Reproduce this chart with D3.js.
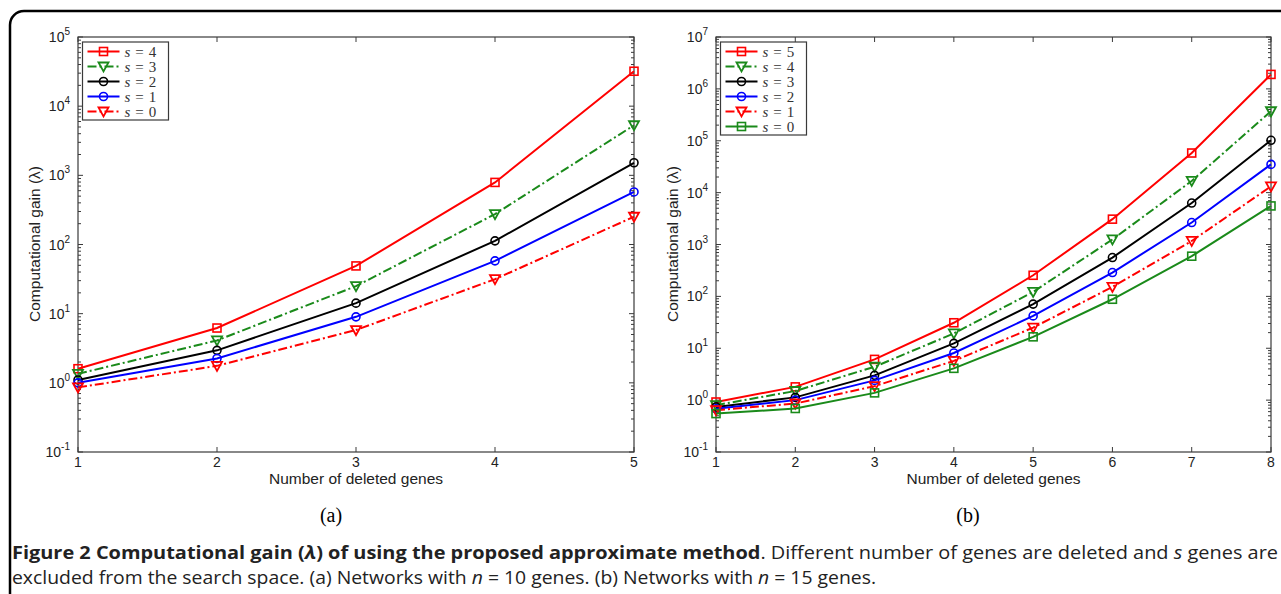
<!DOCTYPE html>
<html>
<head>
<meta charset="utf-8">
<script src="https://cdn.jsdelivr.net/npm/d3@7"></script>
<style>
  body { margin: 0; background: #fff; }
  svg { display: block; }
</style>
</head>
<body>
<div id="fig"></div>
<script>
// number of deleted genes
const genesA = [1, 2, 3, 4, 5];
const genesB = [1, 2, 3, 4, 5, 6, 7, 8];

// excluded genes (legend order)
const sA = [4, 3, 2, 1, 0];
const sB = [5, 4, 3, 2, 1, 0];

// computational gain, panel (a), n = 10
const gainA_s4 = [1.6, 6.2, 49, 790, 32000];
const gainA_s3 = [1.35, 4.1, 25, 275, 5300];
const gainA_s2 = [1.1, 2.95, 14.2, 113, 1520];
const gainA_s1 = [1.0, 2.25, 9.0, 58, 575];
const gainA_s0 = [0.86, 1.76, 5.8, 31.5, 252];

// computational gain, panel (b), n = 15
const gainB_s5 = [0.92, 1.8, 6.1, 31, 255, 3080, 58000, 1.9e6];
const gainB_s4 = [0.8, 1.5, 4.4, 19.3, 122, 1250, 16800, 370000];
const gainB_s3 = [0.74, 1.13, 3.0, 12.4, 71, 560, 6300, 102000];
const gainB_s2 = [0.68, 1.0, 2.4, 8.1, 42, 288, 2650, 35000];
const gainB_s1 = [0.64, 0.86, 1.86, 5.7, 25, 152, 1170, 13200];
const gainB_s0 = [0.55, 0.69, 1.38, 4.1, 16.6, 88, 595, 5540];

// y axis decades
const decadesA = [-1, 0, 1, 2, 3, 4, 5];
const decadesB = [-1, 0, 1, 2, 3, 4, 5, 6, 7];

const RED = "#ff0000", GREEN = "#1a8a1a", BLUE = "#0000ff", BLACK = "#000000";
const DASHDOT = "9,3,2,3";
const SANS = "Liberation Sans, Arial, sans-serif";
const SERIF = "Liberation Serif, Times New Roman, serif";

const W = 1281, H = 594;
const svg = d3.select("#fig").append("svg")
    .attr("width", W)
    .attr("height", H);

// outer rounded frame
svg.append("rect")
    .attr("x", 10).attr("y", 11)
    .attr("width", 1300).attr("height", 620)
    .attr("rx", 14)
    .attr("fill", "none")
    .attr("stroke", "#000")
    .attr("stroke-width", 2.5);

function drawPanel(opt) {
    let x = d3.scaleLinear()
        .domain(d3.extent(opt.genes))
        .range([opt.left, opt.right]);
    let y = d3.scaleLog()
        .domain([Math.pow(10, opt.decades[0]), Math.pow(10, opt.decades[opt.decades.length - 1])])
        .range([452, 37]);

    let g = svg.append("g");

    // box
    g.append("rect")
        .attr("x", opt.left).attr("y", 37)
        .attr("width", opt.right - opt.left).attr("height", 452 - 37)
        .attr("fill", "none")
        .attr("stroke", "#3a3a3a")
        .attr("stroke-width", 1.2);

    // x ticks, bottom and top, pointing inward
    let xt = g.append("g").attr("stroke", "#3a3a3a").attr("stroke-width", 1);
    opt.genes.forEach(function (v) {
        xt.append("line").attr("x1", x(v)).attr("x2", x(v)).attr("y1", 452).attr("y2", 447);
        xt.append("line").attr("x1", x(v)).attr("x2", x(v)).attr("y1", 37).attr("y2", 42);
    });
    g.append("g").selectAll("text").data(opt.genes).enter()
        .append("text")
        .attr("x", d => x(d))
        .attr("y", 467)
        .attr("text-anchor", "middle")
        .attr("font-family", SANS)
        .attr("font-size", 14)
        .attr("fill", "#222")
        .text(d => d);

    // y ticks: decades and minor ticks, both sides
    let yt = g.append("g").attr("stroke", "#3a3a3a").attr("stroke-width", 1);
    opt.decades.forEach(function (e, i) {
        let v = Math.pow(10, e);
        [[opt.left, 5], [opt.right, -5]].forEach(function (s) {
            yt.append("line").attr("x1", s[0]).attr("x2", s[0] + s[1])
                .attr("y1", y(v)).attr("y2", y(v));
        });
        if (i < opt.decades.length - 1) {
            for (let m = 2; m <= 9; m++) {
                [[opt.left, 3], [opt.right, -3]].forEach(function (s) {
                    yt.append("line").attr("x1", s[0]).attr("x2", s[0] + s[1])
                        .attr("y1", y(v * m)).attr("y2", y(v * m));
                });
            }
        }
    });
    let yl = g.append("g").selectAll("text").data(opt.decades).enter()
        .append("text")
        .attr("x", opt.left - 8)
        .attr("y", d => y(Math.pow(10, d)) + 5)
        .attr("text-anchor", "end")
        .attr("font-family", SANS)
        .attr("font-size", 14)
        .attr("fill", "#222");
    yl.append("tspan").text("10");
    yl.append("tspan").attr("dy", -7).attr("font-size", 10).text(d => d);

    // axis titles
    g.append("text")
        .attr("x", (opt.left + opt.right) / 2)
        .attr("y", 484)
        .attr("text-anchor", "middle")
        .attr("font-family", SANS)
        .attr("font-size", 15.5)
        .attr("fill", "#222")
        .text("Number of deleted genes");
    g.append("text")
        .attr("transform", `translate(${opt.left - 38}, 244) rotate(-90)`)
        .attr("text-anchor", "middle")
        .attr("font-family", SANS)
        .attr("font-size", 15.5)
        .attr("fill", "#222")
        .text("Computational gain (λ)");

    // panel letter
    g.append("text")
        .attr("x", opt.letterX)
        .attr("y", 522)
        .attr("text-anchor", "middle")
        .attr("font-family", SERIF)
        .attr("font-size", 20)
        .text(opt.letter);

    // series
    let line = d3.line()
        .x(d => x(d[0]))
        .y(d => y(d[1]));
    opt.series.forEach(function (s) {
        let pts = opt.genes.map((v, i) => [v, s.values[i]]);
        g.append("path")
            .attr("d", line(pts))
            .attr("fill", "none")
            .attr("stroke", s.color)
            .attr("stroke-width", 2)
            .attr("stroke-dasharray", s.dash);
        pts.forEach(function (p) {
            marker(g, s.marker, x(p[0]), y(p[1]), s.color);
        });
    });

    // legend
    let lx = opt.left + 4.5, ly = 42;
    let lg = g.append("g");
    lg.append("rect")
        .attr("x", lx).attr("y", ly)
        .attr("width", opt.legendW).attr("height", opt.series.length * 15 + 3)
        .attr("fill", "#fff")
        .attr("stroke", "#3a3a3a")
        .attr("stroke-width", 1.2);
    opt.series.forEach(function (s, i) {
        let yy = ly + 9.5 + i * 15;
        lg.append("line")
            .attr("x1", lx + 5).attr("x2", lx + 37)
            .attr("y1", yy).attr("y2", yy)
            .attr("stroke", s.color)
            .attr("stroke-width", 2)
            .attr("stroke-dasharray", s.dash);
        marker(lg, s.marker, lx + 21, yy, s.color);
        let t = lg.append("text")
            .attr("x", lx + 42)
            .attr("y", yy + 5)
            .attr("font-family", SERIF)
            .attr("font-size", 15)
            .attr("fill", "#333");
        t.append("tspan").attr("font-style", "italic").text("s");
        t.append("tspan").attr("dx", 5).text("=");
        t.append("tspan").attr("dx", 5).text(s.s);
    });
}

function marker(g, type, cx, cy, color) {
    if (type === "square") {
        g.append("rect")
            .attr("x", cx - 4).attr("y", cy - 4)
            .attr("width", 8).attr("height", 8)
            .attr("fill", "none").attr("stroke", color).attr("stroke-width", 1.6);
    } else if (type === "circle") {
        g.append("circle")
            .attr("cx", cx).attr("cy", cy).attr("r", 4)
            .attr("fill", "none").attr("stroke", color).attr("stroke-width", 1.6);
    } else {
        g.append("path")
            .attr("d", `M${cx - 5},${cy - 4}L${cx + 5},${cy - 4}L${cx},${cy + 5}Z`)
            .attr("fill", "none").attr("stroke", color).attr("stroke-width", 1.8);
    }
}

drawPanel({
    left: 78, right: 634, genes: genesA, decades: decadesA,
    letter: "(a)", letterX: 331, legendW: 86,
    series: [
        { s: sA[0], values: gainA_s4, color: RED, dash: null, marker: "square" },
        { s: sA[1], values: gainA_s3, color: GREEN, dash: DASHDOT, marker: "tri" },
        { s: sA[2], values: gainA_s2, color: BLACK, dash: null, marker: "circle" },
        { s: sA[3], values: gainA_s1, color: BLUE, dash: null, marker: "circle" },
        { s: sA[4], values: gainA_s0, color: RED, dash: DASHDOT, marker: "tri" }
    ]
});

drawPanel({
    left: 716, right: 1271, genes: genesB, decades: decadesB,
    letter: "(b)", letterX: 968, legendW: 86,
    series: [
        { s: sB[0], values: gainB_s5, color: RED, dash: null, marker: "square" },
        { s: sB[1], values: gainB_s4, color: GREEN, dash: DASHDOT, marker: "tri" },
        { s: sB[2], values: gainB_s3, color: BLACK, dash: null, marker: "circle" },
        { s: sB[3], values: gainB_s2, color: BLUE, dash: null, marker: "circle" },
        { s: sB[4], values: gainB_s1, color: RED, dash: DASHDOT, marker: "tri" },
        { s: sB[5], values: gainB_s0, color: GREEN, dash: null, marker: "square" }
    ]
});

// caption
const capFont = "'Open Sans', 'Noto Sans', sans-serif";
let c1 = svg.append("text")
    .attr("x", 12).attr("y", 559)
    .attr("font-family", capFont)
    .attr("font-size", 17.5)
    .attr("fill", "#222")
    .attr("textLength", 1266)
    .attr("lengthAdjust", "spacingAndGlyphs");
c1.append("tspan").attr("font-weight", "bold").text("Figure 2 Computational gain (");
c1.append("tspan").attr("font-weight", "bold").attr("font-style", "italic").text("λ");
c1.append("tspan").attr("font-weight", "bold").text(") of using the proposed approximate method");
c1.append("tspan").text(". Different number of genes are deleted and ");
c1.append("tspan").attr("font-style", "italic").text("s");
c1.append("tspan").text(" genes are");

let c2 = svg.append("text")
    .attr("x", 12).attr("y", 584)
    .attr("font-family", capFont)
    .attr("font-size", 17.5)
    .attr("fill", "#222")
    .attr("textLength", 864)
    .attr("lengthAdjust", "spacingAndGlyphs");
c2.append("tspan").text("excluded from the search space. (a) Networks with ");
c2.append("tspan").attr("font-style", "italic").text("n");
c2.append("tspan").text(" = 10 genes. (b) Networks with ");
c2.append("tspan").attr("font-style", "italic").text("n");
c2.append("tspan").text(" = 15 genes.");
</script>
</body>
</html>
